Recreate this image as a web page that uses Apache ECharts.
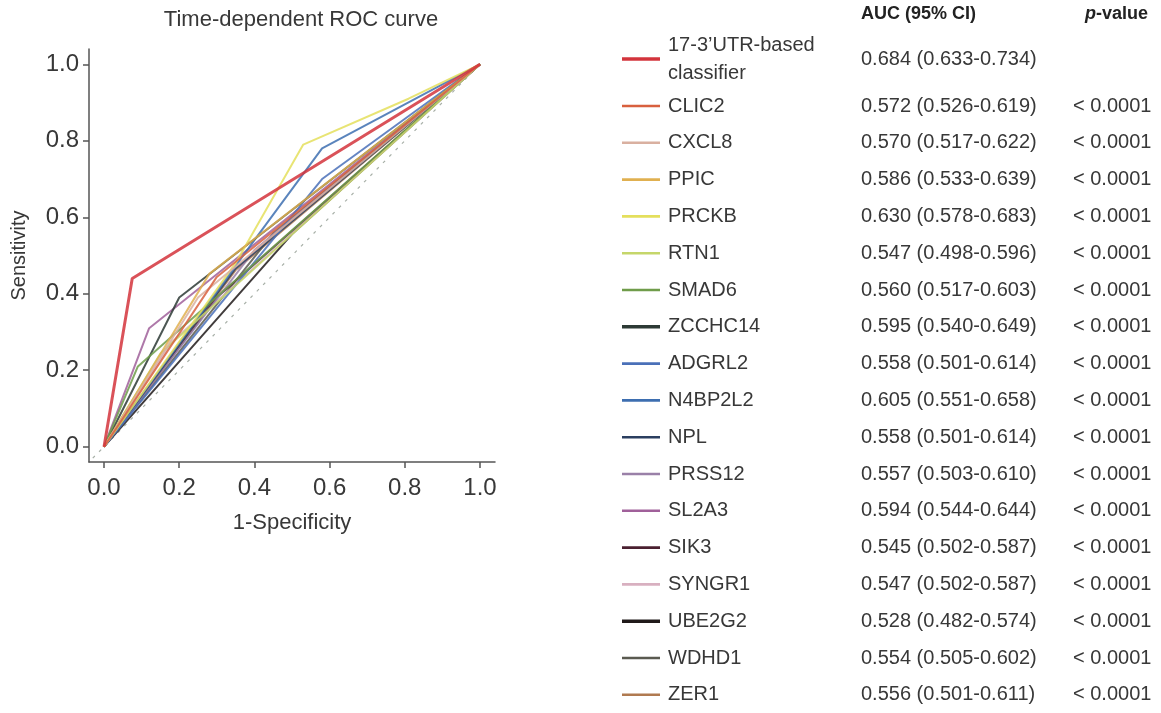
<!DOCTYPE html>
<html>
<head>
<meta charset="utf-8">
<script src="https://cdn.jsdelivr.net/npm/echarts@6/dist/echarts.min.js"></script>
<style>
  html, body { margin: 0; padding: 0; background: #fff; }
  #chart { width: 1161px; height: 713px; }
</style>
</head>
<body>
<div id="chart"></div>
<script>
// 曲线名称、AUC 与 p 值
const names = [
  '17-3’UTR-based\nclassifier', 'CLIC2', 'CXCL8', 'PPIC', 'PRCKB', 'RTN1', 'SMAD6', 'ZCCHC14',
  'ADGRL2', 'N4BP2L2', 'NPL', 'PRSS12', 'SL2A3', 'SIK3', 'SYNGR1', 'UBE2G2', 'WDHD1', 'ZER1'
];
const aucLabels = [
  '0.684 (0.633-0.734)', '0.572 (0.526-0.619)', '0.570 (0.517-0.622)', '0.586 (0.533-0.639)',
  '0.630 (0.578-0.683)', '0.547 (0.498-0.596)', '0.560 (0.517-0.603)', '0.595 (0.540-0.649)',
  '0.558 (0.501-0.614)', '0.605 (0.551-0.658)', '0.558 (0.501-0.614)', '0.557 (0.503-0.610)',
  '0.594 (0.544-0.644)', '0.545 (0.502-0.587)', '0.547 (0.502-0.587)', '0.528 (0.482-0.574)',
  '0.554 (0.505-0.602)', '0.556 (0.501-0.611)'
];
const pLabels = [
  '', '< 0.0001', '< 0.0001', '< 0.0001', '< 0.0001', '< 0.0001', '< 0.0001', '< 0.0001',
  '< 0.0001', '< 0.0001', '< 0.0001', '< 0.0001', '< 0.0001', '< 0.0001', '< 0.0001', '< 0.0001',
  '< 0.0001', '< 0.0001'
];
const colors = [
  '#d3343c', '#d8603e', '#d9b0a0', '#e0b050', '#e4df5c', '#c5d66a', '#6f9c4a', '#2d3a35',
  '#4a70b8', '#3d6eb0', '#2b3f60', '#9a80a8', '#a0609a', '#4a2030', '#d8b0c0', '#201a1a',
  '#5a5a50', '#b07a50'
];
// ROC 曲线各点 (1-特异度, 灵敏度)
const fpr = [
  [0, 0.075, 1], [0, 0.30, 1], [0, 0.25, 1], [0, 0.28, 1],
  [0, 0.35, 0.53, 0.81, 1], [0, 0.15, 1], [0, 0.09, 1], [0, 0.20, 1],
  [0, 0.58, 1], [0, 0.40, 0.58, 1], [0, 0.35, 1], [0, 0.40, 1],
  [0, 0.12, 1], [0, 0.30, 1], [0, 0.18, 1], [0, 0.50, 1],
  [0, 0.45, 1], [0, 0.35, 1]
];
const tpr = [
  [0, 0.44, 1], [0, 0.444, 1], [0, 0.39, 1], [0, 0.452, 1],
  [0, 0.48, 0.79, 0.91, 1], [0, 0.244, 1], [0, 0.21, 1], [0, 0.39, 1],
  [0, 0.70, 1], [0, 0.54, 0.78, 1], [0, 0.466, 1], [0, 0.514, 1],
  [0, 0.31, 1], [0, 0.39, 1], [0, 0.274, 1], [0, 0.556, 1],
  [0, 0.558, 1], [0, 0.462, 1]
];
const diagonal = [[-0.03, -0.03], [1, 1]];
const ticks = [0, 0.2, 0.4, 0.6, 0.8, 1.0];

const chart = echarts.init(document.getElementById('chart'));
const font = 'Liberation Sans, Arial, sans-serif';

const series = [{
  type: 'line',
  data: diagonal,
  symbol: 'none',
  silent: true,
  lineStyle: { color: '#a8b0a8', width: 1.2, type: [3, 6] },
  z: 1
}];
// 先画基因曲线，最后画分类器曲线
for (let i = names.length - 1; i >= 0; i--) {
  series.push({
    type: 'line',
    name: names[i],
    data: fpr[i].map((x, k) => [x, tpr[i][k]]),
    symbol: 'none',
    lineStyle: { color: colors[i], width: i === 0 ? 3 : 2, opacity: 0.85 },
    z: i === 0 ? 5 : 2
  });
}

// 右侧图例表格
const graphics = [];
const headY = 15;
graphics.push({
  type: 'text', left: 861, top: headY - 10,
  style: { text: 'AUC (95% CI)', font: 'bold 18px ' + font, fill: '#222' }
});
graphics.push({
  type: 'text', left: 1085, top: headY - 10,
  style: {
    text: '{i|p}{b|-value}',
    rich: {
      i: { font: 'italic bold 18px ' + font, fill: '#222' },
      b: { font: 'bold 18px ' + font, fill: '#222' }
    }
  }
});
names.forEach((n, i) => {
  const y = i === 0 ? 59 : 106 + (i - 1) * 36.8;
  graphics.push({
    type: 'line',
    shape: { x1: 622, y1: y, x2: 660, y2: y },
    style: { stroke: colors[i], lineWidth: i === 0 || i === 7 || i === 15 ? 3.5 : 2.6 }
  });
  graphics.push({
    type: 'text', x: 668, y: y,
    style: {
      text: n, font: '20px ' + font, fill: '#383838',
      verticalAlign: 'middle', lineHeight: 28
    }
  });
  graphics.push({
    type: 'text', x: 861, y: y,
    style: { text: aucLabels[i], font: '20px ' + font, fill: '#383838', verticalAlign: 'middle' }
  });
  if (pLabels[i]) {
    graphics.push({
      type: 'text', x: 1073, y: y,
      style: { text: pLabels[i], font: '20px ' + font, fill: '#383838', verticalAlign: 'middle' }
    });
  }
});

chart.setOption({
  animation: false,
  backgroundColor: '#fff',
  title: {
    text: 'Time-dependent ROC curve',
    left: 296, top: 4, textAlign: 'center',
    textStyle: { fontFamily: font, fontSize: 22, fontWeight: 'normal', color: '#383838' }
  },
  grid: { left: 89, top: 49, width: 406, height: 413 },
  xAxis: {
    type: 'value', min: -0.04, max: 1.04,
    name: '1-Specificity', nameLocation: 'middle', nameGap: 50,
    nameTextStyle: { fontFamily: font, fontSize: 22, color: '#383838' },
    axisLine: { show: true, onZero: false, lineStyle: { color: '#555', width: 1.5 } },
    axisTick: { show: true, customValues: ticks, length: 6, lineStyle: { color: '#555', width: 1.5 } },
    axisLabel: {
      customValues: ticks, formatter: v => v.toFixed(1), margin: 14,
      fontFamily: font, fontSize: 24, color: '#383838'
    },
    splitLine: { show: false }
  },
  yAxis: {
    type: 'value', min: -0.04, max: 1.04,
    name: 'Sensitivity', nameLocation: 'middle', nameGap: 60,
    nameTextStyle: { fontFamily: font, fontSize: 20, color: '#383838' },
    axisLine: { show: true, onZero: false, lineStyle: { color: '#555', width: 1.5 } },
    axisTick: { show: true, customValues: ticks, length: 6, lineStyle: { color: '#555', width: 1.5 } },
    axisLabel: {
      customValues: ticks, formatter: v => v.toFixed(1), margin: 10,
      fontFamily: font, fontSize: 24, color: '#383838'
    },
    splitLine: { show: false }
  },
  series: series,
  graphic: graphics
});
</script>
</body>
</html>
